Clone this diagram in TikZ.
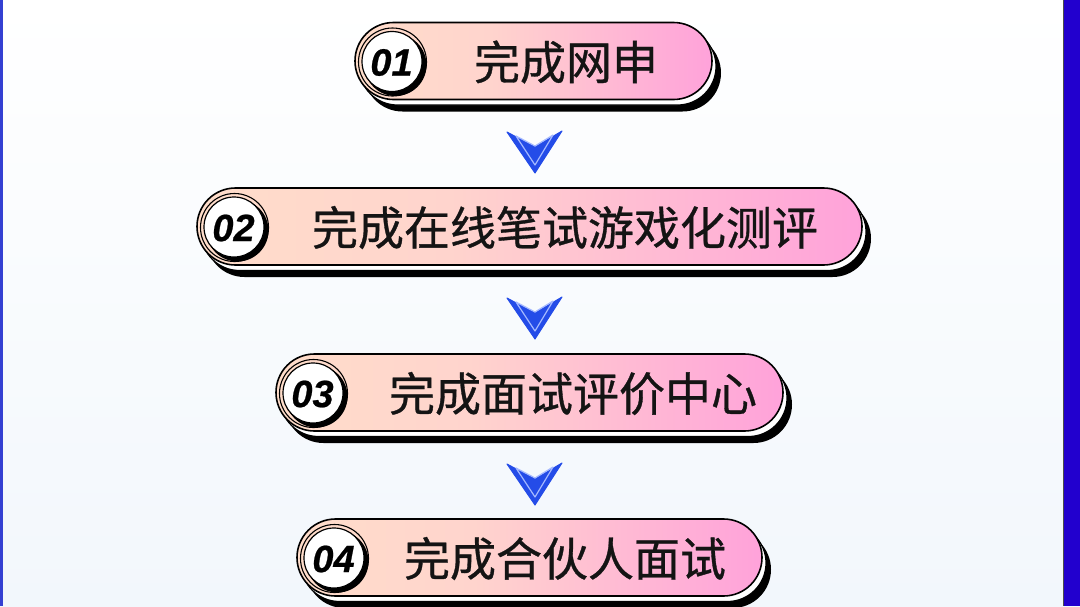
\documentclass[tikz,border=0pt]{standalone}
\usepackage{fontspec}
\setmainfont{Noto Sans CJK SC}
\newfontfamily\cjkmed{Noto Sans CJK SC}[FakeBold=0.7]
\newfontfamily\numfont{Liberation Sans}[FakeBold=0.6]
\definecolor{peach}{RGB}{255,221,202}
\definecolor{peachb}{RGB}{255,212,205}
\definecolor{pinkr}{RGB}{255,162,218}
\definecolor{bgblue}{RGB}{242,247,252}
\definecolor{arrowblue}{RGB}{36,76,232}
\definecolor{arrowline}{RGB}{165,185,255}
\definecolor{bandblue}{RGB}{34,0,206}
\definecolor{leftblue}{RGB}{52,64,210}
\pgfdeclarehorizontalshading{pillshade}{100bp}{color(0bp)=(peach); color(25bp)=(peach); color(44bp)=(peachb); color(75bp)=(pinkr); color(100bp)=(pinkr)}
\tikzset{
  shadowpill/.style={fill=black, rounded corners=38.5pt},
  whitepill/.style={fill=white, draw=black, line width=1.2pt, rounded corners=38.5pt},
  facepill/.style={shading=pillshade, draw=black, line width=1.6pt, rounded corners=38.5pt},
  numtext/.style={font=\numfont\bfseries\itshape\fontsize{38}{38}\selectfont, text=black, inner sep=0pt},
  steptext/.style={font=\cjkmed\fontsize{46}{46}\selectfont, text=black!92, inner sep=0pt},
  downarrow/.style={fill=arrowblue, draw=arrowblue, line width=1pt, line join=round},
  arrowinner/.style={draw=arrowline, line width=1.2pt, line join=round},
}
% #1 name, #2 x1, #3 y1, #4 x2, #5 number, #6 text, #7 text center x
\newcommand\pillstep[7]{%
  \pgfmathsetmacro\ytwo{#3+77}%
  \pgfmathsetmacro\yc{#3+38.5}%
  \pgfmathsetmacro\cx{#2+37.5}%
  \fill[shadowpill] (#2+9,#3+12) rectangle (#4+9,\ytwo+12);
  \draw[whitepill] (#2+4,#3+5.5) rectangle (#4+4,\ytwo+5.5);
  \shade[facepill] (#2,#3) rectangle (#4,\ytwo);
  \draw[black, line width=1.1pt] (\cx,\yc+1) circle (34pt);
  \fill[black] (\cx+3,\yc+4) circle (31pt);
  \draw[fill=white, draw=black, line width=1.2pt] (\cx-0.5,\yc+0.5) circle (30pt);
  \node[numtext] (n#1) at (\cx-1,\yc+1.5) {#5};
  \node[steptext] (t#1) at (#7,\yc+1) {#6};
}
\newcommand\stepdown[3]{% #1 name, #2 cx, #3 top y
  \coordinate (a#1) at (#2,#3);
  \fill[downarrow] ($(a#1)+(-28,0)$) -- ($(a#1)+(0,15)$) -- ($(a#1)+(27,-1)$) -- ($(a#1)+(0,41)$) -- cycle;
  \draw[arrowinner] ($(a#1)+(-19,4)$) -- ($(a#1)+(0,14)$) -- ($(a#1)+(18,3)$) -- ($(a#1)+(0,33)$) -- cycle;
}
\usetikzlibrary{calc}
\begin{document}
\begin{tikzpicture}[x=1pt,y=-1pt]
\useasboundingbox (0,0) rectangle (1080,606);
\shade[top color=white, middle color=white, bottom color=bgblue] (0,0) rectangle (1080,606);
\fill[leftblue] (0,0) rectangle (3,606);
\fill[bandblue] (1064,0) rectangle (1080,606);
\draw[black!70, line width=1.5pt] (1063.5,0) -- (1063.5,606);
\pillstep{1}{355}{22.5}{712}{01}{完成网申}{566}
\pillstep{2}{197}{188}{862}{02}{完成在线笔试游戏化测评}{565}
\pillstep{3}{276}{354}{783}{03}{完成面试评价中心}{573}
\pillstep{4}{297}{519}{762}{04}{完成合伙人面试}{565}
\stepdown{1}{535}{132}
\stepdown{2}{535}{298}
\stepdown{3}{535}{464}
\end{tikzpicture}
\end{document}
